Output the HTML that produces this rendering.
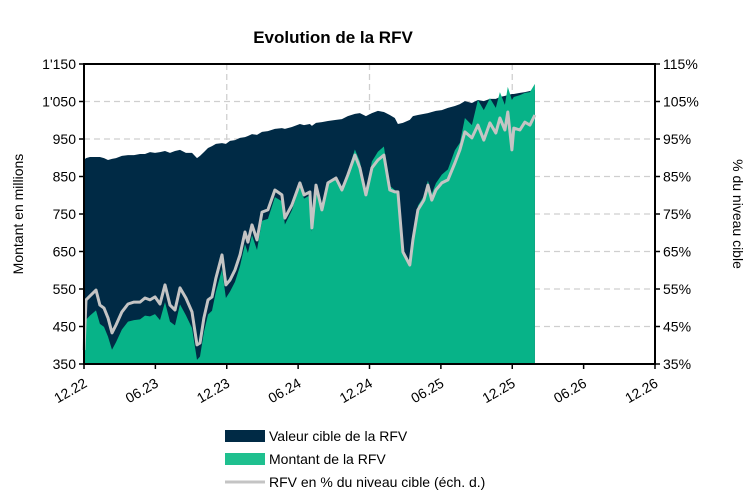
<!DOCTYPE html>
<html><head><meta charset="utf-8"><style>
body{margin:0;background:#fff;width:753px;height:496px;overflow:hidden;font-family:"Liberation Sans",sans-serif}
</style></head><body>
<svg id="c" width="753" height="496" xmlns="http://www.w3.org/2000/svg"></svg>
<script>
const months=[0,.17,.5,1.01,1.34,1.68,2.02,2.35,2.69,3.19,3.7,4.2,4.71,5.13,5.55,5.97,6.39,6.81,7.23,7.65,8.07,8.57,9.08,9.5,9.75,10.08,10.42,10.76,11.09,11.6,11.93,12.27,12.69,13.11,13.53,13.78,14.12,14.54,14.96,15.46,16.05,16.64,16.89,17.48,18.15,18.49,18.99,19.16,19.5,20,20.5,21.18,21.68,22.18,22.77,23.19,23.7,24.2,24.71,25.21,25.71,26.13,26.39,26.81,27.39,27.65,28.07,28.57,28.91,29.24,29.58,30.08,30.59,31.18,31.6,32.02,32.61,33.11,33.61,34.12,34.62,34.96,35.38,35.63,35.97,36.13,36.64,37.06,37.48,37.9];
const target=[894,899,902,902,902,899,894,897,899,905,907,907,910,910,915,913,915,918,913,918,921,913,913,899,905,915,926,931,937,939,937,945,947,953,955,958,963,961,969,971,977,979,977,982,990,987,990,985,993,995,998,1001,1003,1011,1017,1019,1011,1019,1025,1022,1014,1006,990,993,1001,1011,1014,1017,1019,1022,1025,1027,1033,1038,1043,1051,1046,1054,1051,1057,1057,1062,1065,1067,1070,1070,1073,1075,1078,1081];
const amount=[350,468,479,493,457,449,423,388,408,442,463,467,469,479,477,483,467,515,463,453,509,480,446,361,370,435,482,492,543,602,526,543,569,611,670,646,694,654,732,737,795,784,722,760,825,791,800,703,821,757,831,847,815,863,922,890,810,890,916,930,825,814,801,642,615,690,772,798,839,804,832,855,869,920,940,1006,987,1054,1027,1059,1033,1075,1041,1089,1054,1062,1067,1073,1075,1097];
const ratio=[38.7,52.1,53.1,54.7,50.7,49.9,47.3,43.3,45.4,48.9,51,51.5,51.5,52.6,52.1,52.9,51,56.1,50.7,49.4,55.3,52.6,48.9,40.1,40.6,47.3,52.1,52.9,57.9,64.1,56.1,57.4,60.1,64.1,70.2,67.5,72.1,68.1,75.5,76.1,81.4,80.1,73.9,77.4,83.3,80.1,80.9,71.3,82.7,76.1,83.3,84.6,81.4,85.4,90.7,87.3,80.1,87.3,89.4,90.7,81.4,80.9,80.9,64.9,61.4,68.1,76.1,78.7,82.7,78.7,81.4,83.3,84.1,88.6,92.1,96.9,95.3,98.7,94.7,99.3,96.6,100.6,97.4,102.2,92.1,97.9,97.4,99.5,98.7,101.4];
const leftTicks=["350","450","550","650","750","850","950","1'050","1'150"];
const rightTicks=["35%","45%","55%","65%","75%","85%","95%","105%","115%"];
const xTicks=["12.22","06.23","12.23","06.24","12.24","06.25","12.25","06.26","12.26"];
const L=84,R=655,T=64,B=364;
const x=m=>L+(R-L)*m/48;
const y=v=>B-(v-350)*(B-T)/800;
const yr=p=>B-(p-35)*(B-T)/80;
const s=document.getElementById('c');const NS="http://www.w3.org/2000/svg";
function mk(t,a,txt){const e=document.createElementNS(NS,t);for(const k in a)e.setAttribute(k,a[k]);if(txt!=null)e.textContent=txt;s.appendChild(e);return e;}
leftTicks.forEach((t,i)=>{const yy=y(350+i*100);if(i>0&&i<8){const g=mk('line',{x1:L,x2:R,y1:yy,y2:yy,stroke:'#cfcfcf','stroke-width':1.3,'stroke-dasharray':'6,4'});
}});
[12,24,36].forEach(m=>{const g=mk('line',{x1:x(m),x2:x(m),y1:T,y2:B,stroke:'#cfcfcf','stroke-width':1.3,'stroke-dasharray':'6,4'});
});
let d='M'+x(months[0])+','+B;months.forEach((m,i)=>d+='L'+x(m).toFixed(1)+','+y(target[i]).toFixed(1));d+='L'+x(months[months.length-1])+','+B+'Z';
const a1=mk('path',{d:d,fill:'#002a45'});

d='M'+x(months[0])+','+B;months.forEach((m,i)=>d+='L'+x(m).toFixed(1)+','+y(amount[i]).toFixed(1));d+='L'+x(months[months.length-1])+','+B+'Z';
const a2=mk('path',{d:d,fill:'#07b388'});

d='';months.forEach((m,i)=>d+=(i?'L':'M')+x(m).toFixed(1)+','+yr(ratio[i]).toFixed(1));
const ln=mk('path',{d:d,fill:'none',stroke:'#c4c4c4','stroke-width':3,'stroke-linejoin':'round'});

const fr=mk('rect',{x:L,y:T,width:R-L,height:B-T,fill:'none',stroke:'#000','stroke-width':2});

leftTicks.forEach((t,i)=>{const yy=y(350+i*100);
mk('line',{x1:L-5,x2:L,y1:yy,y2:yy,stroke:'#000','stroke-width':1.5});
const e=mk('text',{x:L-8,y:yy+5,'text-anchor':'end','font-size':14,fill:'#000'},t);

mk('line',{x1:R,x2:R+5,y1:yy,y2:yy,stroke:'#000','stroke-width':1.5});
const f=mk('text',{x:R+8,y:yy+5,'font-size':14,fill:'#000'},rightTicks[i]);
});
xTicks.forEach((t,i)=>{const xx=x(i*6);
mk('line',{x1:xx,x2:xx,y1:B,y2:B+5,stroke:'#000','stroke-width':1.5});
const e=mk('text',{x:xx+4,y:B+22,'text-anchor':'end','font-size':14,fill:'#000',transform:`rotate(-30 ${xx+4} ${B+22})`},t);
});
</script>
<svg width="753" height="496" style="position:absolute;left:0;top:0">
<text x="333" y="43" text-anchor="middle" font-size="17" font-weight="bold">Evolution de la RFV</text>
<text transform="translate(23 214) rotate(-90)" text-anchor="middle" font-size="14">Montant en millions</text>
<text transform="translate(733 214) rotate(90)" text-anchor="middle" font-size="14">% du niveau cible</text>
<rect x="225" y="430" width="40" height="12" fill="#002a45"/>
<text x="269" y="441" font-size="14">Valeur cible de la RFV</text>
<rect x="225" y="453" width="40" height="12" fill="#1fc08f"/>
<text x="269" y="464" font-size="14">Montant de la RFV</text>
<line x1="225" x2="265" y1="482" y2="482" stroke="#c4c4c4" stroke-width="3"/>
<text x="269" y="487" font-size="14">RFV en % du niveau cible (éch. d.)</text>
</svg>
</body></html>
